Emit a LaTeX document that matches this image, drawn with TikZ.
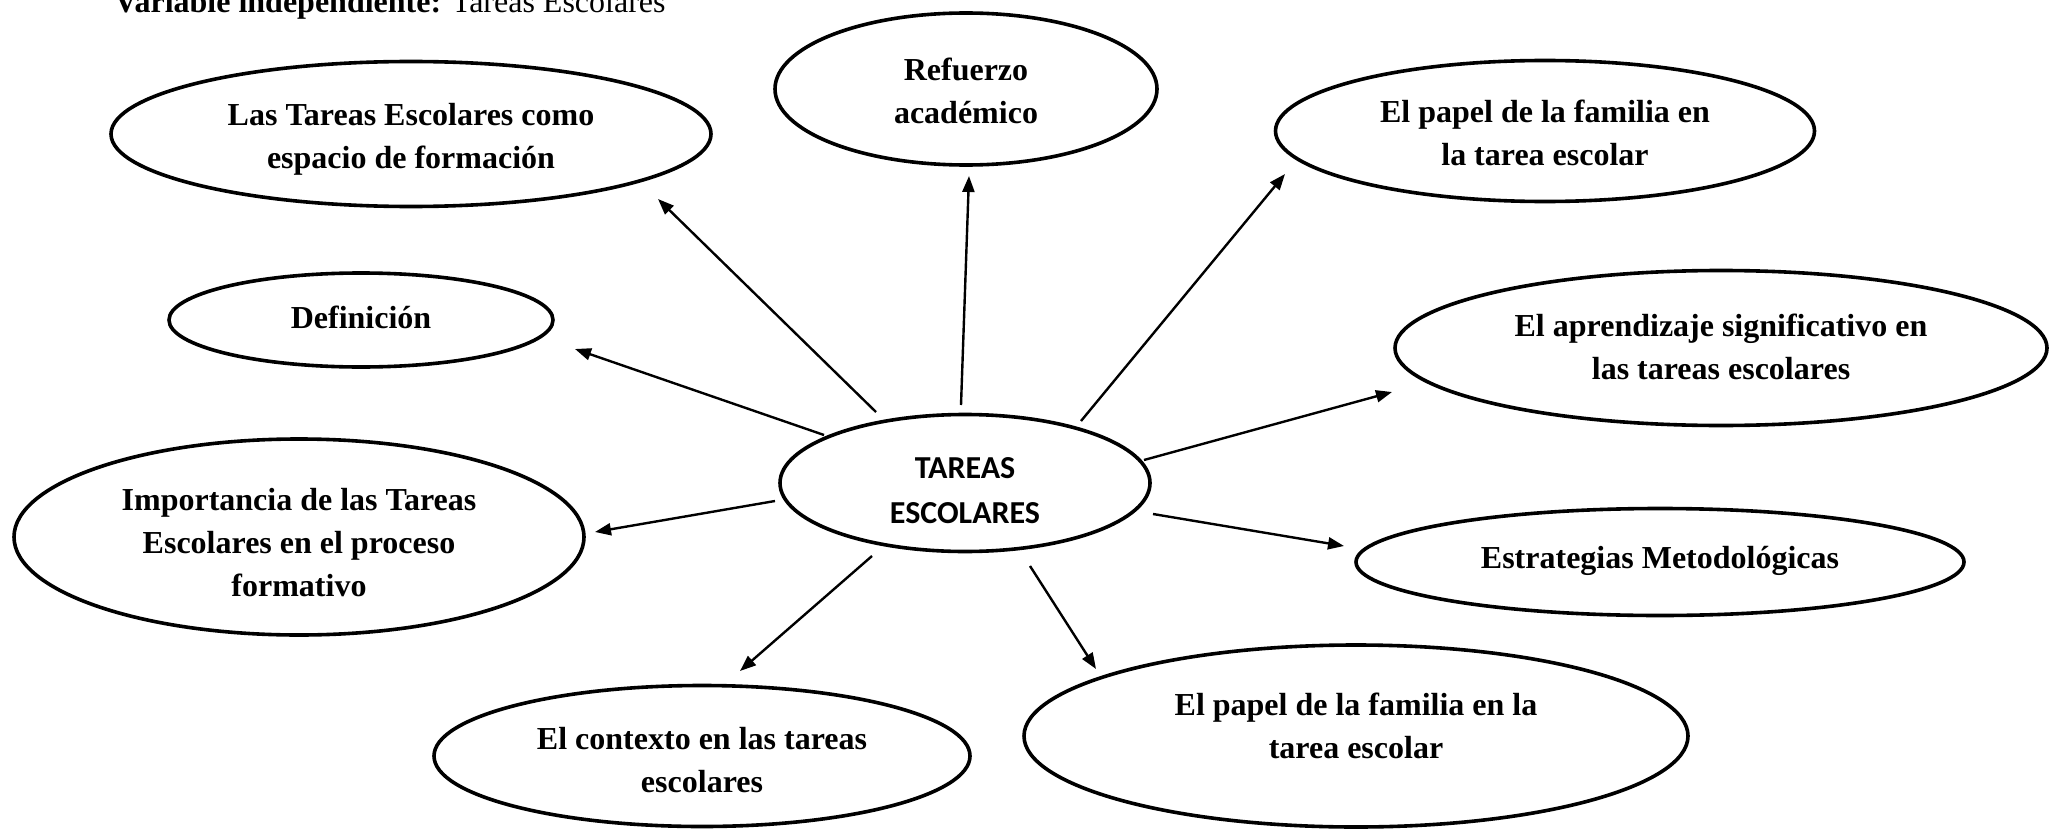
\documentclass[tikz,border=0pt]{standalone}
\usepackage{fontspec}
\setmainfont{Liberation Serif}
\newfontfamily\calibrifont{Carlito}
\usetikzlibrary{shapes.geometric,arrows.meta,calc}
\newcommand\ovaltext[2]{\raisebox{#1}[\height][\depth]{\begin{tabular}{@{}c@{}}#2\end{tabular}}}
\begin{document}
\begin{tikzpicture}[x=0.5pt,y=-0.5pt,
  oval/.style={ellipse, draw, line width=1.8pt, inner sep=0pt, outer sep=0pt,
    align=center, font=\bfseries\fontsize{16}{21.5}\selectfont},
  arr/.style={line width=1.2pt, -{Triangle[length=8pt,width=6pt]}}]
\useasboundingbox (0,0) rectangle (2050,829);
\node[anchor=base west, inner sep=0pt, font=\fontsize{16}{19}\selectfont] (title) at (114,13)
  {\textbf{Variable independiente:} Tareas Escolares};
\node[oval, minimum width=185pt, minimum height=68.5pt, font=\calibrifont\bfseries\fontsize{16}{22.5}\selectfont] (C) at (965,483) {\ovaltext{-4.5pt}{TAREAS\\ESCOLARES}};
\node[oval, minimum width=300pt, minimum height=72.5pt] (LT) at (411,134) {\ovaltext{-2pt}{Las Tareas Escolares como\\espacio de formación}};
\node[oval, minimum width=191pt, minimum height=76pt] (RF) at (966,89) {\ovaltext{-2pt}{Refuerzo\\académico}};
\node[oval, minimum width=269.5pt, minimum height=70.5pt] (PF) at (1545,131) {\ovaltext{-2.2pt}{El papel de la familia en\\la tarea escolar}};
\node[oval, minimum width=192pt, minimum height=47pt] (DF) at (361,320) {\ovaltext{0pt}{Definición}};
\node[oval, minimum width=326pt, minimum height=77.5pt] (AP) at (1721,348) {\ovaltext{-0.5pt}{El aprendizaje significativo en\\las tareas escolares}};
\node[oval, minimum width=285pt, minimum height=98pt] (IM) at (299,537) {\ovaltext{-4pt}{Importancia de las Tareas\\Escolares en el proceso\\formativo}};
\node[oval, minimum width=304pt, minimum height=53.5pt] (ES) at (1660,562) {\ovaltext{1pt}{Estrategias Metodológicas}};
\node[oval, minimum width=268pt, minimum height=70.5pt] (CX) at (702,756) {\ovaltext{-3pt}{El contexto en las tareas\\escolares}};
\node[oval, minimum width=332pt, minimum height=91pt] (PB) at (1356,736) {\ovaltext{4pt}{El papel de la familia en la\\tarea escolar}};
\draw[arr] ($(C)+(-89,-71)$) -- ($(LT)+(247,65)$);
\draw[arr] ($(C)+(-4,-78)$) -- ($(RF)+(3,87)$);
\draw[arr] ($(C)+(116,-62)$) -- ($(PF)+(-260,43)$);
\draw[arr] ($(C)+(-141,-48)$) -- ($(DF)+(214,29)$);
\draw[arr] ($(C)+(179,-23)$) -- ($(AP)+(-329,44)$);
\draw[arr] ($(C)+(-190,18)$) -- ($(IM)+(296,-5)$);
\draw[arr] ($(C)+(188,31)$) -- ($(ES)+(-316,-16)$);
\draw[arr] ($(C)+(-93,73)$) -- ($(CX)+(38,-85)$);
\draw[arr] ($(C)+(65,83)$) -- ($(PB)+(-260,-67)$);
\end{tikzpicture}
\end{document}
